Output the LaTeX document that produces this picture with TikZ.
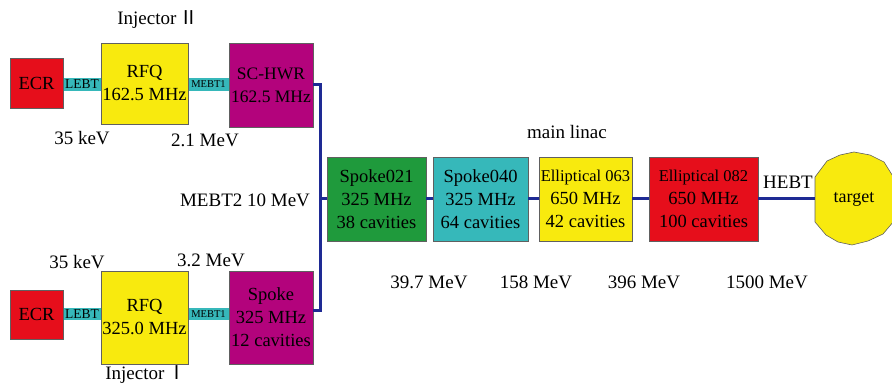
\documentclass[tikz,border=0pt]{standalone}
\usepackage{fontspec}
\setmainfont{Liberation Serif}
\newfontfamily\cjk{Noto Sans CJK SC}
\definecolor{ecrred}{HTML}{E60E1B}
\definecolor{rfqyellow}{HTML}{F8EA0E}
\definecolor{hwrmag}{HTML}{B3037C}
\definecolor{lineteal}{HTML}{36B8BA}
\definecolor{spgreen}{HTML}{1F9A3C}
\definecolor{beamblue}{HTML}{1E2A94}
\begin{document}
\begin{tikzpicture}[x=1pt,y=-1pt,
  box/.style={draw=gray!75!black,line width=0.6pt,inner sep=0pt,align=center,
    font=\fontsize{18.5}{23}\selectfont},
  bar/.style={fill=lineteal,inner sep=0pt,minimum height=13pt},
  lbl/.style={inner sep=0pt,font=\fontsize{19}{22}\selectfont},
  beam/.style={draw=beamblue,line width=3pt}]
\useasboundingbox (0,0) rectangle (892,387);

% ---- Injector II ----
\node[bar,minimum width=40pt,font=\fontsize{13.5}{14}\selectfont] (lebtb) at (82,84.5) {LEBT};
\node[bar,minimum width=43pt,font=\fontsize{10.5}{11}\selectfont] (mebtb) at (208.5,84.5) {MEBT1};
\node[box,fill=ecrred,minimum width=53pt,minimum height=50pt] (ecrb) at (36.5,83) {ECR};
\node[box,fill=rfqyellow,minimum width=87pt,minimum height=81pt] (rfqb) at (144.5,83.5) {RFQ\\162.5 MHz};
\node[box,fill=hwrmag,minimum width=84pt,minimum height=84pt,font=\fontsize{17.5}{23}\selectfont] (hwr) at (271,85) {SC-HWR\\162.5 MHz};
\node[lbl] (injb) at (158,20) {Injector\,{\cjk Ⅱ}};
\node[lbl] (kevb) at (82,138) {35 keV};
\node[lbl] (mevb) at (205,140) {2.1 MeV};

% ---- Injector I ----
\node[bar,minimum width=40pt,minimum height=12pt,font=\fontsize{13.5}{14}\selectfont] (lebta) at (82,314) {LEBT};
\node[bar,minimum width=43pt,minimum height=12pt,font=\fontsize{10.5}{11}\selectfont] (mebta) at (208.5,314) {MEBT1};
\node[box,fill=ecrred,minimum width=53pt,minimum height=49pt] (ecra) at (36.5,314.5) {ECR};
\node[box,fill=rfqyellow,minimum width=87pt,minimum height=93pt] (rfqa) at (144.5,317.5) {RFQ\\325.0 MHz};
\node[box,fill=hwrmag,minimum width=84pt,minimum height=93pt] (spk) at (271,317.5) {Spoke\\325 MHz\\12 cavities};
\node[lbl] (keva) at (77,262) {35 keV};
\node[lbl] (meva) at (211,260) {3.2 MeV};
\node[lbl] (inja) at (146,375) {Injector\,{\cjk Ⅰ}};

% ---- main linac ----
\coordinate (bus) at (320,199);
\node[lbl] (mebt2) at (245,200) {MEBT2 10 MeV};
\node[box,fill=spgreen,minimum width=99pt,minimum height=84pt] (s21) at (376.5,199) {Spoke021\\325 MHz\\38 cavities};
\node[box,fill=lineteal,minimum width=95pt,minimum height=84pt] (s40) at (480.5,199) {Spoke040\\325 MHz\\64 cavities};
\node[box,fill=rfqyellow,minimum width=93pt,minimum height=84pt] (e63) at (585.5,199)
  {{\fontsize{16.5}{23}\selectfont Elliptical 063}\\650 MHz\\42 cavities};
\node[box,fill=ecrred,minimum width=109pt,minimum height=84pt] (e82) at (703.5,199)
  {{\fontsize{16.5}{23}\selectfont Elliptical 082}\\650 MHz\\100 cavities};
\node[lbl] (linac) at (567,132) {main linac};
\node[lbl] (en1) at (429,282) {39.7 MeV};
\node[lbl] (en2) at (536,282) {158 MeV};
\node[lbl] (en3) at (644,282) {396 MeV};
\node[lbl] (en4) at (767,282) {1500 MeV};

% target
\node[circle,minimum size=78pt,inner sep=0pt,font=\fontsize{18}{20}\selectfont] (target) at (854,199) {};
\begin{scope}
\clip (0,0) rectangle (892,387);
\draw[fill=rfqyellow,draw=gray!75!black,line width=0.6pt]
  (815,177) -- (827,161) -- (840,155) -- (854,152) -- (870,155) -- (884,162) -- (894,178)
  -- (894,221) -- (883,234) -- (868,241) -- (852,245) -- (838,242) -- (826,235) -- (815,222) -- cycle;
\end{scope}
\node[font=\fontsize{18}{20}\selectfont,inner sep=0pt] at (target.center) {target};
\node[lbl] (hebt) at (788,182) {HEBT};

% beam lines
\draw[beam] (hwr.east) -| (bus);
\draw[beam] ([yshift=7pt]spk.east) -| (bus);
\draw[beam] (bus) -- (s21.west);
\draw[beam] (s21.east) -- (s40.west);
\draw[beam] (s40.east) -- (e63.west);
\draw[beam] (e63.east) -- (e82.west);
\draw[beam] (e82.east) -- (target.west);
\end{tikzpicture}
\end{document}
